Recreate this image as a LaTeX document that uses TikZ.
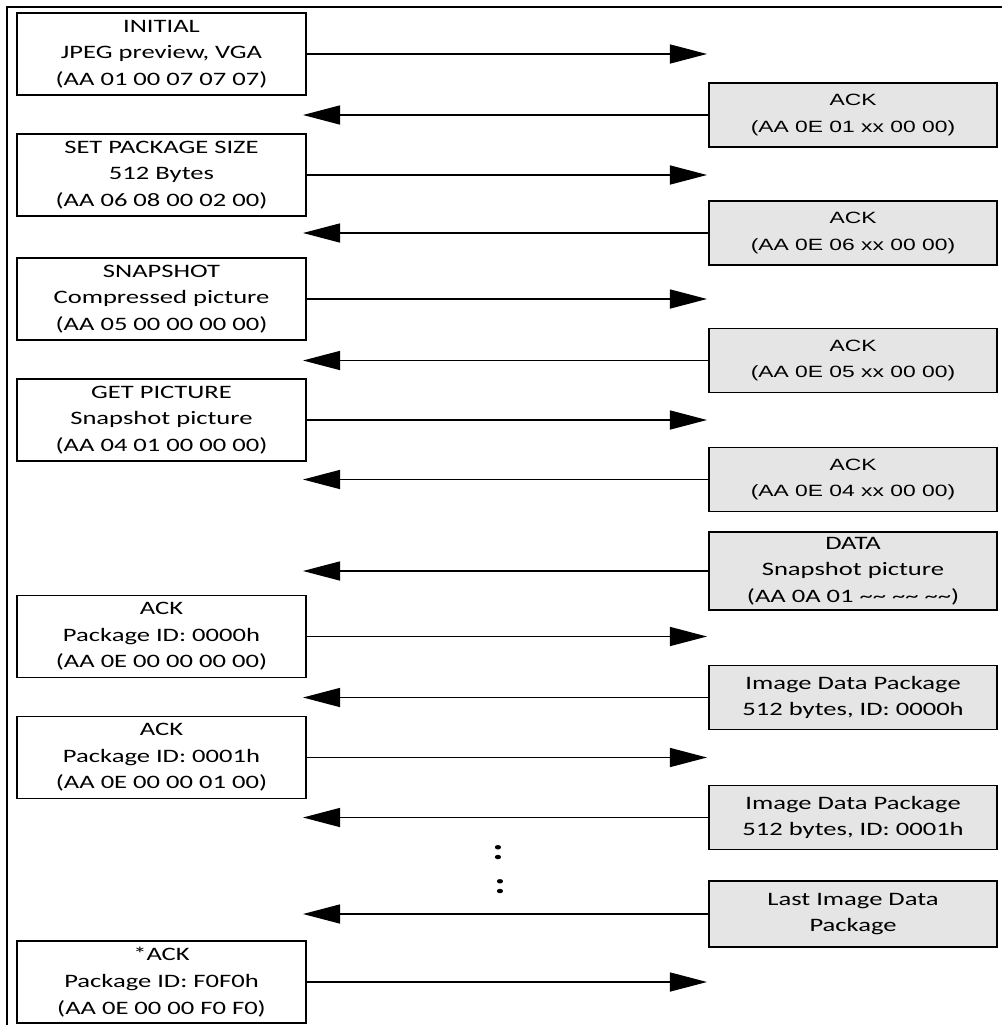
\documentclass[tikz,border=0pt]{standalone}
\usepackage{fontspec}
\setmainfont{Carlito}[FakeStretch=1.4]
\newfontfamily\ackfont{Liberation Sans}[FakeStretch=1.4]
\usetikzlibrary{arrows.meta}

\begin{document}
\begin{tikzpicture}[x=0.025cm, y=-0.025cm,
	cmd/.style={draw, rectangle, line width=1.1pt, minimum width=7.225cm, minimum height=2.05cm, inner sep=0pt, align=center, font=\fontsize{13.5}{18.9}\selectfont},
	reply/.style={cmd, fill=gray!20, minimum width=7.2cm, minimum height=1.6cm},
	ackreply/.style={reply, font=\ackfont\fontsize{11.6}{19}\selectfont},
	msg/.style={-{Triangle[length=0.925cm, width=0.475cm]}, line width=1pt}]
				\useasboundingbox (0, 0) rectangle (1002, 1025);
				\draw[line width=1.6pt] (1002, 7) -- (7, 7) -- (7, 1025);
				% commands sent to the camera
				\node[cmd] (init)at(161.5, 54) {INITIAL\\JPEG preview, VGA\\(AA 01 00 07 07 07)};
				\node[cmd] (size)at(161.5, 175) {SET PACKAGE SIZE\\512 Bytes\\(AA 06 08 00 02 00)};
				\node[cmd] (snap)at(161.5, 299) {SNAPSHOT\\Compressed picture\\(AA 05 00 00 00 00)};
				\node[cmd] (getpic)at(161.5, 420) {GET PICTURE\\Snapshot picture\\(AA 04 01 00 00 00)};
				\node[cmd] (ackA)at(161.5, 636.5) {ACK\\Package ID: 0000h\\(AA 0E 00 00 00 00)};
				\node[cmd] (ackB)at(161.5, 757.5) {ACK\\Package ID: 0001h\\(AA 0E 00 00 01 00)};
				\node[cmd] (ackLast)at(161.5, 982) {*ACK\\Package ID: F0F0h\\(AA 0E 00 00 F0 F0)};
				% replies of the camera
				\node[ackreply] (ackInit)at(853, 115) {ACK\\(AA 0E 01 xx 00 00)};
				\node[ackreply] (ackSize)at(853, 233) {ACK\\(AA 0E 06 xx 00 00)};
				\node[ackreply] (ackSnap)at(853, 360.5) {ACK\\(AA 0E 05 xx 00 00)};
				\node[ackreply] (ackGet)at(853, 479.5) {ACK\\(AA 0E 04 xx 00 00)};
				\node[reply, minimum height=1.95cm] (data)at(853, 571) {DATA\\Snapshot picture\\(AA 0A 01 \textasciitilde\textasciitilde{} \textasciitilde\textasciitilde{} \textasciitilde\textasciitilde)};
				\node[reply] (imgA)at(853, 697.5) {Image Data Package\\512 bytes, ID: 0000h};
				\node[reply] (imgB)at(853, 817.5) {Image Data Package\\512 bytes, ID: 0001h};
				\node[reply, minimum height=1.65cm] (imgLast)at(853, 914) {Last Image Data\\Package};
				\node[font=\bfseries\fontsize{21}{21}\selectfont] (gapA)at(498, 853) {:};
				\node[font=\bfseries\fontsize{21}{21}\selectfont] (gapB)at(500, 887) {:};
				% arrow ends
				\coordinate (tipR)at(707, 0);
				\coordinate (tipL)at(303, 0);
				\draw[msg] (init.east) -- (init.east -| tipR);
				\draw[msg] (ackInit.west) -- (ackInit.west -| tipL);
				\draw[msg] (size.east) -- (size.east -| tipR);
				\draw[msg] (ackSize.west) -- (ackSize.west -| tipL);
				\draw[msg] (snap.east) -- (snap.east -| tipR);
				\draw[msg] (ackSnap.west) -- (ackSnap.west -| tipL);
				\draw[msg] (getpic.east) -- (getpic.east -| tipR);
				\draw[msg] (ackGet.west) -- (ackGet.west -| tipL);
				\draw[msg] (data.west) -- (data.west -| tipL);
				\draw[msg] (ackA.east) -- (ackA.east -| tipR);
				\draw[msg] (imgA.west) -- (imgA.west -| tipL);
				\draw[msg] (ackB.east) -- (ackB.east -| tipR);
				\draw[msg] (imgB.west) -- (imgB.west -| tipL);
				\draw[msg] (imgLast.west) -- (imgLast.west -| tipL);
				\draw[msg] (ackLast.east) -- (ackLast.east -| tipR);
\end{tikzpicture}
\end{document}
